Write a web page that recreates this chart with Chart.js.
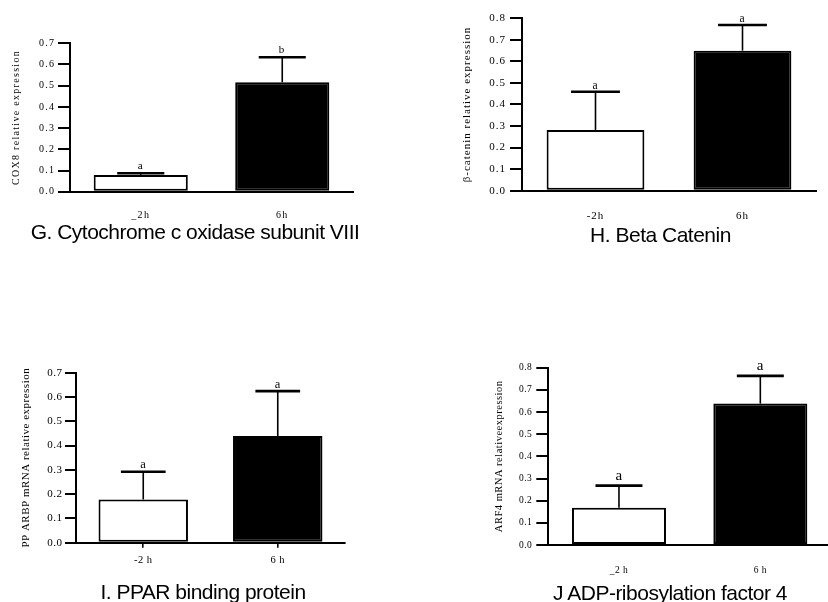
<!DOCTYPE html>
<html>
<head>
<meta charset="utf-8">
<script src="https://cdn.jsdelivr.net/npm/chart.js@4.4.1/dist/chart.umd.min.js"></script>
<style>
  html, body { margin: 0; padding: 0; background: #fff; overflow: hidden; }
  body { width: 828px; height: 602px; position: relative; }
  canvas { position: absolute; }
  .caption {
    position: absolute; width: 400px; text-align: center;
    font-family: 'Liberation Sans', Arial, sans-serif; font-size: 21px;
    line-height: 21px; letter-spacing: -0.5px; color: #000; white-space: nowrap;
  }
</style>
</head>
<body>
<script>
// values
const hoursG = ['_2h', '6h'];
const hoursH = ['-2h', '6h'];
const hoursI = ['-2 h', '6 h'];
const hoursJ = ['_2 h', '6 h'];

const meanG = [0.079, 0.516];
const semG  = [0.008, 0.118];
const lettersG = ['a', 'b'];

const meanH = [0.282, 0.650];
const semH  = [0.177, 0.119];
const lettersH = ['a', 'a'];

const meanI = [0.178, 0.439];
const semI  = [0.114, 0.185];
const lettersI = ['a', 'a'];

const meanJ = [0.168, 0.638];
const semJ  = [0.100, 0.125];
const lettersJ = ['a', 'a'];

const yMaxG = 0.7, yMaxH = 0.8, yMaxI = 0.7, yMaxJ = 0.8;

const SERIF = "'Liberation Serif', 'Times New Roman', serif";
Chart.defaults.color = '#000';

// whiskers (upper SEM only) + significance letters
const errorBars = {
  id: 'errorBars',
  afterDatasetsDraw(chart, args, o) {
    const { ctx } = chart;
    const y = chart.scales.y;
    const meta = chart.getDatasetMeta(0);
    ctx.save();
    ctx.strokeStyle = '#000';
    ctx.fillStyle = '#000';
    meta.data.forEach((bar, i) => {
      const top = y.getPixelForValue(o.means[i] + o.sem[i]);
      const half = bar.width * 0.25;
      ctx.lineWidth = 1.6;
      ctx.beginPath(); ctx.moveTo(bar.x, bar.y); ctx.lineTo(bar.x, top); ctx.stroke();
      ctx.lineWidth = 2.6;
      ctx.beginPath(); ctx.moveTo(bar.x - half, top); ctx.lineTo(bar.x + half, top); ctx.stroke();
      ctx.font = o.letterSize + 'px ' + SERIF;
      ctx.textAlign = 'center';
      ctx.textBaseline = 'alphabetic';
      ctx.fillText(o.letters[i], bar.x, top - o.gap);
    });
    ctx.restore();
  }
};

// the original export spreads its serif text out a little
const spacing = {
  id: 'spacing',
  beforeUpdate(chart, args, o) { chart.ctx.letterSpacing = o.px + 'px'; },
  beforeDraw(chart, args, o) { chart.ctx.letterSpacing = o.px + 'px'; }
};

function makePanel(p) {
  const canvas = document.createElement('canvas');
  canvas.width = p.box.width;
  canvas.height = p.box.height;
  canvas.style.left = p.box.left + 'px';
  canvas.style.top = p.box.top + 'px';
  document.body.appendChild(canvas);

  const yWidth = p.area.left - p.box.left;
  const xHeight = p.box.top + p.box.height - p.area.bottom;
  const titleLH = p.titleSize * 1.2;

  new Chart(canvas, {
    type: 'bar',
    data: {
      labels: p.labels,
      datasets: [{
        data: p.means,
        backgroundColor: ['#fff', '#000'],
        borderColor: '#000',
        borderWidth: 2,
        borderSkipped: false,
        categoryPercentage: 0.665,
        barPercentage: 1
      }]
    },
    options: {
      responsive: false,
      animation: false,
      devicePixelRatio: 1,
      layout: {
        padding: {
          top: p.area.top - p.box.top,
          left: 0,
          right: p.box.left + p.box.width - p.area.right,
          bottom: 0
        }
      },
      plugins: {
        legend: { display: false },
        tooltip: { enabled: false },
        errorBars: { means: p.means, sem: p.sem, letters: p.letters, letterSize: p.letterSize, gap: p.letterGap },
        spacing: { px: p.spacing }
      },
      scales: {
        x: {
          offset: true,
          afterFit: s => { s.height = xHeight; },
          border: { display: true, color: '#000', width: 2 },
          grid: p.xTicks
            ? { display: true, drawOnChartArea: false, drawTicks: true, tickLength: 5, offset: false, color: '#000', lineWidth: 1.6 }
            : { display: false },
          ticks: { font: { family: SERIF, size: p.xLabelSize }, padding: p.xLabelPad, maxRotation: 0 }
        },
        y: {
          min: 0,
          max: p.yMax,
          afterFit: s => { s.width = yWidth; },
          border: { display: true, color: '#000', width: 2 },
          grid: { display: true, drawOnChartArea: false, drawTicks: true, tickLength: p.tickLen, color: '#000', lineWidth: 2 },
          ticks: {
            stepSize: 0.1,
            font: { family: SERIF, size: p.tickSize },
            padding: p.tickPad,
            callback: v => v.toFixed(1)
          },
          title: {
            display: true,
            text: p.yTitle,
            font: { family: SERIF, size: p.titleSize, lineHeight: 1.2 },
            padding: { top: p.titleX - p.box.left - titleLH / 2, bottom: 0 }
          }
        }
      }
    },
    plugins: [spacing, errorBars]
  });

  const cap = document.createElement('div');
  cap.className = 'caption';
  cap.textContent = p.caption;
  cap.style.left = (p.capX - 200) + 'px';
  cap.style.top = (p.capTop - 2.7) + 'px';
  document.body.appendChild(cap);
}

makePanel({
  labels: hoursG, means: meanG, sem: semG, letters: lettersG, yMax: yMaxG,
  yTitle: 'COX8 relative expression', caption: 'G. Cytochrome c oxidase subunit VIII',
  box: { left: 0, top: 0, width: 360, height: 225 },
  area: { left: 70, right: 353, top: 43.3, bottom: 191.7 },
  spacing: 1.3, tickSize: 10, tickLen: 12, tickPad: 2.7,
  titleSize: 10, titleX: 16, xLabelSize: 10, xLabelPad: 9.3, xTicks: false,
  letterSize: 11, letterGap: 4, capX: 195, capTop: 224
});

makePanel({
  labels: hoursH, means: meanH, sem: semH, letters: lettersH, yMax: yMaxH,
  yTitle: 'β-catenin relative expression', caption: 'H. Beta Catenin',
  box: { left: 440, top: 0, width: 388, height: 225 },
  area: { left: 522, right: 816, top: 18.3, bottom: 190.7 },
  spacing: 1.0, tickSize: 11, tickLen: 12, tickPad: 4,
  titleSize: 11, titleX: 466.7, xLabelSize: 11, xLabelPad: 11, xTicks: false,
  letterSize: 11.5, letterGap: 2.5, capX: 660.5, capTop: 227
});

makePanel({
  labels: hoursI, means: meanI, sem: semI, letters: lettersI, yMax: yMaxI,
  yTitle: 'PP ARBP mRNA relative expression', caption: 'I. PPAR binding protein',
  box: { left: 0, top: 330, width: 360, height: 272 },
  area: { left: 76, right: 345, top: 372.7, bottom: 542.7 },
  spacing: 0.5, tickSize: 11, tickLen: 11, tickPad: 2.5,
  titleSize: 11, titleX: 26, xLabelSize: 10.5, xLabelPad: 6, xTicks: true,
  letterSize: 12.5, letterGap: 3.5, capX: 203, capTop: 583.3
});

makePanel({
  labels: hoursJ, means: meanJ, sem: semJ, letters: lettersJ, yMax: yMaxJ,
  yTitle: 'ARF4 mRNA relativeexpression', caption: 'J ADP-ribosylation factor 4',
  box: { left: 470, top: 330, width: 362, height: 272 },
  area: { left: 548.3, right: 831, top: 367.7, bottom: 545 },
  spacing: 0.5, tickSize: 9.5, tickLen: 12, tickPad: 4,
  titleSize: 10.5, titleX: 499, xLabelSize: 9.5, xLabelPad: 12, xTicks: false,
  letterSize: 15, letterGap: 6, capX: 670, capTop: 585
});
</script>
</body>
</html>
